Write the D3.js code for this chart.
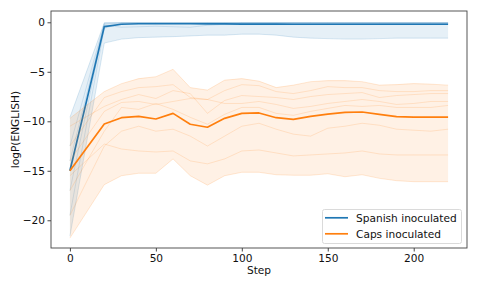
<!DOCTYPE html>
<html>
<head>
<meta charset="utf-8">
<script src="https://cdn.jsdelivr.net/npm/d3@7"></script>
<style>
  body { margin: 0; background: #fff; }
  svg { display: block; font-family: "DejaVu Sans", sans-serif; }
</style>
</head>
<body>
<div id="chart"></div>
<script>
// chart data
const steps = [0, 20, 30, 40, 50, 60, 70, 80, 90, 100, 110, 120, 130, 140, 150, 160, 170, 180, 190, 200, 210, 220];

// Spanish inoculated
const spanishMean  = [-15.0, -0.44, -0.2, -0.15, -0.15, -0.15, -0.15, -0.17, -0.17, -0.18, -0.18, -0.18, -0.2, -0.2, -0.2, -0.2, -0.2, -0.2, -0.2, -0.2, -0.2, -0.2];
const spanishUpper = [-9.6, -0.02, -0.02, -0.02, -0.02, -0.02, -0.02, -0.02, -0.02, -0.02, -0.02, -0.02, -0.02, -0.02, -0.02, -0.02, -0.02, -0.02, -0.02, -0.02, -0.02, -0.02];
const spanishLower = [-21.6, -2.1, -1.7, -1.55, -1.5, -1.45, -1.38, -1.3, -1.3, -1.2, -1.2, -1.3, -1.5, -1.6, -1.65, -1.7, -1.7, -1.65, -1.6, -1.6, -1.6, -1.6];
const spanishRuns = [
  [-9.6, -0.05, -0.03, -0.03, -0.03, -0.03, -0.03, -0.03, -0.03, -0.03, -0.03, -0.03, -0.03, -0.03, -0.03, -0.03, -0.03, -0.03, -0.03, -0.03, -0.03, -0.03],
  [-12.5, -0.1, -0.05, -0.05, -0.05, -0.05, -0.05, -0.05, -0.05, -0.05, -0.05, -0.05, -0.05, -0.05, -0.05, -0.05, -0.05, -0.05, -0.05, -0.05, -0.05, -0.05],
  [-14.0, -0.2, -0.1, -0.08, -0.08, -0.08, -0.08, -0.08, -0.08, -0.08, -0.08, -0.08, -0.08, -0.08, -0.08, -0.08, -0.08, -0.08, -0.08, -0.08, -0.08, -0.08],
  [-17.0, -0.3, -0.5, -0.45, -0.4, -0.45, -0.5, -0.3, -0.2, -0.1, -0.1, -0.1, -0.1, -0.1, -0.1, -0.1, -0.1, -0.1, -0.1, -0.1, -0.1, -0.1],
  [-19.5, -0.6, -0.1, -0.1, -0.1, -0.1, -0.1, -0.1, -0.1, -0.1, -0.1, -0.1, -0.1, -0.1, -0.1, -0.1, -0.1, -0.1, -0.1, -0.1, -0.1, -0.1],
  [-21.6, -2.1, -1.7, -1.55, -1.5, -1.45, -1.38, -1.3, -1.3, -1.2, -1.2, -1.3, -1.5, -1.6, -1.65, -1.7, -1.7, -1.65, -1.6, -1.6, -1.6, -1.6]
];

// Caps inoculated
const capsMean  = [-15.0, -10.28, -9.64, -9.5, -9.77, -9.2, -10.3, -10.6, -9.7, -9.2, -9.16, -9.64, -9.8, -9.5, -9.28, -9.1, -9.06, -9.3, -9.53, -9.57, -9.57, -9.57];
const capsUpper = [-9.7, -7.0, -6.2, -5.66, -5.5, -4.75, -6.6, -6.84, -5.83, -5.66, -5.93, -6.57, -6.33, -6.0, -5.86, -5.86, -6.0, -6.33, -6.27, -6.16, -6.23, -6.36];
const capsLower = [-21.8, -16.4, -15.5, -15.25, -15.25, -13.8, -15.5, -16.45, -15.5, -15.15, -15.15, -15.4, -15.45, -15.45, -15.3, -15.6, -15.4, -15.76, -16.0, -16.1, -16.1, -16.1];
const capsRuns = [
  [-9.7, -7.0, -6.2, -5.7, -5.5, -4.75, -6.6, -6.85, -5.85, -5.7, -5.95, -6.6, -6.35, -6.0, -5.9, -5.9, -6.0, -6.35, -6.3, -6.2, -6.25, -6.35],
  [-12.5, -7.6, -7.0, -6.6, -6.5, -6.3, -7.6, -7.8, -6.9, -6.3, -6.4, -7.0, -7.2, -6.9, -6.5, -6.6, -6.6, -6.9, -7.0, -7.0, -6.9, -6.9],
  [-10.5, -8.5, -7.8, -7.3, -7.7, -6.9, -7.2, -9.2, -7.9, -7.4, -7.5, -7.6, -7.8, -7.5, -7.3, -7.2, -7.1, -7.6, -7.4, -7.3, -7.2, -7.2],
  [-14.0, -9.0, -8.1, -8.0, -8.3, -8.0, -7.7, -7.8, -8.2, -8.2, -8.0, -8.3, -8.7, -8.5, -8.2, -8.0, -7.8, -8.0, -8.3, -8.2, -8.0, -8.0],
  [-17.0, -11.0, -8.6, -8.8, -8.2, -8.8, -9.6, -10.3, -9.3, -8.6, -8.6, -9.2, -9.4, -9.0, -8.7, -8.4, -8.5, -8.4, -8.6, -8.6, -8.6, -8.4],
  [-19.5, -12.5, -11.0, -10.5, -11.0, -10.8, -11.5, -12.5, -11.5, -10.5, -10.2, -10.8, -11.3, -11.5, -10.7, -10.5, -10.2, -10.4, -10.8, -10.9, -11.0, -10.8],
  [-15.5, -12.3, -12.8, -13.0, -13.1, -13.0, -14.0, -14.3, -13.8, -13.0, -12.9, -13.2, -13.5, -13.4, -13.3, -13.2, -13.0, -13.3, -13.4, -13.4, -13.4, -13.4],
  [-21.8, -16.4, -15.5, -15.25, -15.25, -13.8, -15.5, -16.45, -15.5, -15.15, -15.15, -15.4, -15.45, -15.45, -15.3, -15.6, -15.4, -15.76, -16.0, -16.1, -16.1, -16.1]
];

const xTicks = [0, 50, 100, 150, 200];
const yTicks = [0, -5, -10, -15, -20];
const legendLabels = ["Spanish inoculated", "Caps inoculated"];

// layout
const width = 478;
const height = 287;
const margin = { top: 11, left: 51, bottom: 39, right: 11 };
const colors = ["#1f77b4", "#ff7f0e"];
const fontSize = "10.6px";

const svg = d3.select("#chart")
  .append("svg")
  .attr("width", width)
  .attr("height", height);

const x = d3.scaleLinear()
  .domain([-11, 231])
  .range([margin.left, width - margin.right]);

const y = d3.scaleLinear()
  .domain([-22.8, 1.14])
  .range([height - margin.bottom, margin.top]);

const line = d3.line()
  .x(function(d, i) { return x(steps[i]); })
  .y(function(d) { return y(d); });

const area = d3.area()
  .x(function(d) { return x(d.step); })
  .y0(function(d) { return y(d.lo); })
  .y1(function(d) { return y(d.hi); });

function drawSeries(runs, lower, upper, mean, color) {
  var g = svg.append("g");

  // the band
  g.append("path")
    .datum(steps.map(function(s, i) { return { step: s, lo: lower[i], hi: upper[i] }; }))
    .attr("d", area)
    .attr("fill", color)
    .attr("fill-opacity", 0.11)
    .attr("stroke", "none");

  // each single run, faint
  g.selectAll("path.run")
    .data(runs)
    .enter()
    .append("path")
    .attr("class", "run")
    .attr("d", line)
    .attr("fill", "none")
    .attr("stroke", color)
    .attr("stroke-opacity", 0.16)
    .attr("stroke-width", 1);

  // mean line on top
  g.append("path")
    .datum(mean)
    .attr("d", line)
    .attr("fill", "none")
    .attr("stroke", color)
    .attr("stroke-width", 1.7)
    .attr("stroke-linejoin", "round");
}

drawSeries(spanishRuns, spanishLower, spanishUpper, spanishMean, colors[0]);
drawSeries(capsRuns, capsLower, capsUpper, capsMean, colors[1]);

// axes
const xAxis = svg.append("g")
  .attr("transform", "translate(0," + (height - margin.bottom) + ")")
  .call(d3.axisBottom(x).tickValues(xTicks).tickSize(3.5).tickPadding(3).tickFormat(d3.format("d")));

const yAxis = svg.append("g")
  .attr("transform", "translate(" + margin.left + ",0)")
  .call(d3.axisLeft(y).tickValues(yTicks).tickSize(3.5).tickPadding(2.5)
    .tickFormat(function(d) { return d < 0 ? "\u2212" + Math.abs(d) : d; }));

[xAxis, yAxis].forEach(function(ax) {
  ax.select(".domain").remove();
  ax.selectAll(".tick line").attr("stroke", "#333").attr("stroke-width", 0.9);
  ax.selectAll(".tick text")
    .attr("fill", "#111")
    .style("font-size", fontSize)
    .style("font-family", "DejaVu Sans");
});

// frame
svg.append("rect")
  .attr("x", margin.left)
  .attr("y", margin.top)
  .attr("width", width - margin.left - margin.right)
  .attr("height", height - margin.top - margin.bottom)
  .attr("fill", "none")
  .attr("stroke", "#444")
  .attr("stroke-width", 0.9);

// axis labels
svg.append("text")
  .attr("x", (margin.left + width - margin.right) / 2)
  .attr("y", 274)
  .attr("text-anchor", "middle")
  .style("font-size", fontSize)
  .attr("fill", "#111")
  .text("Step");

svg.append("text")
  .attr("transform", "translate(18.5," + ((margin.top + height - margin.bottom) / 2) + ") rotate(-90)")
  .attr("text-anchor", "middle")
  .style("font-size", fontSize)
  .attr("fill", "#111")
  .text("logP(ENGLISH)");

// legend
const legend = svg.append("g").attr("transform", "translate(322.5,209.5)");

legend.append("rect")
  .attr("width", 139)
  .attr("height", 34)
  .attr("rx", 2)
  .attr("fill", "#fff")
  .attr("fill-opacity", 0.8)
  .attr("stroke", "#d6d6d6")
  .attr("stroke-width", 0.9);

legend.selectAll("g.item")
  .data(legendLabels)
  .enter()
  .append("g")
  .attr("class", "item")
  .attr("transform", function(d, i) { return "translate(0," + (8.3 + i * 16) + ")"; })
  .each(function(d, i) {
    var item = d3.select(this);
    item.append("line")
      .attr("x1", 2.5)
      .attr("x2", 25.5)
      .attr("stroke", colors[i])
      .attr("stroke-width", 1.7);
    item.append("text")
      .attr("x", 33.5)
      .attr("dy", "0.35em")
      .style("font-size", fontSize)
      .attr("fill", "#111")
      .text(d);
  });
</script>
</body>
</html>
